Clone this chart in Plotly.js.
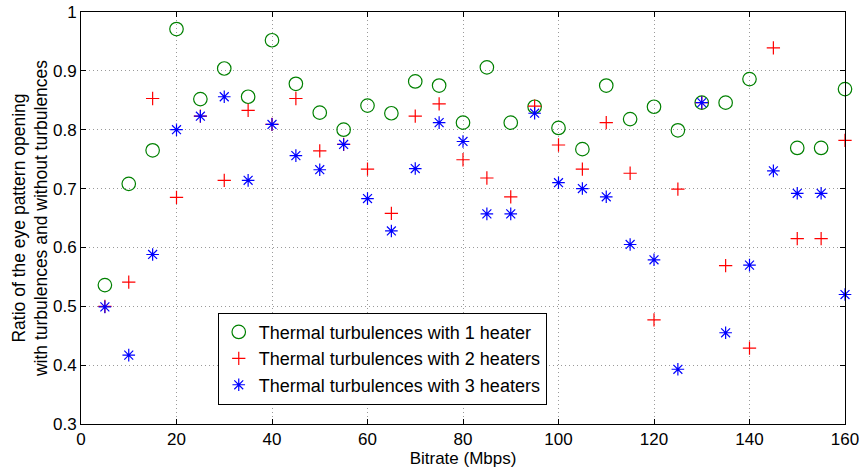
<!DOCTYPE html>
<html>
<head>
<meta charset="utf-8">
<script src="https://cdn.plot.ly/plotly-3.0.1.min.js"></script>
<style>html,body{margin:0;padding:0;background:#fff;}#chart{width:859px;height:468px;}</style>
</head>
<body>
<div id="chart"></div>
<script>
const bitrate = [5,10,15,20,25,30,35,40,45,50,55,60,65,70,75,80,85,90,95,100,105,110,115,120,125,130,135,140,145,150,155,160];
const heater1 = [0.536,0.708,0.765,0.971,0.852,0.904,0.856,0.952,0.878,0.829,0.800,0.841,0.828,0.882,0.875,0.812,0.906,0.812,0.839,0.803,0.767,0.875,0.818,0.839,0.799,0.846,0.846,0.886,null,0.769,0.769,0.869];
const heater2 = [0.500,0.541,0.853,0.685,0.823,0.714,0.833,0.809,0.853,0.764,0.775,0.733,0.658,0.823,0.844,0.749,0.718,0.686,0.840,0.774,0.733,0.812,0.726,0.477,0.699,0.846,0.569,0.429,0.939,0.615,0.615,0.782];
const heater3 = [0.499,0.417,0.588,0.800,0.823,0.856,0.714,0.809,0.756,0.732,0.775,0.683,0.628,0.734,0.812,0.780,0.657,0.657,0.828,0.710,0.700,0.686,0.605,0.579,0.393,0.846,0.455,0.570,0.730,0.692,0.692,0.520];
const seriesNames = ["Thermal turbulences with 1 heater","Thermal turbulences with 2 heaters","Thermal turbulences with 3 heaters"];
const xTicks = [0,20,40,60,80,100,120,140,160];
const yTicks = [0.3,0.4,0.5,0.6,0.7,0.8,0.9,1];
const yTickText = ["0.3","0.4","0.5","0.6","0.7","0.8","0.9","1"];

const fam = "Liberation Sans, Arial, Helvetica, sans-serif";
const font = {family: fam, size: 17, color: "#000"};

const traces = [
  {x: bitrate, y: heater1, name: seriesNames[0], mode: "markers", type: "scatter", cliponaxis: false,
   marker: {symbol: "circle-open", size: 13.5, color: "rgb(0,128,0)", line: {width: 1.2, color: "rgb(0,128,0)"}}},
  {x: bitrate, y: heater2, name: seriesNames[1], mode: "markers", type: "scatter", cliponaxis: false,
   marker: {symbol: "cross-thin-open", size: 9.5, color: "rgb(255,0,0)", line: {width: 1.2, color: "rgb(255,0,0)"}}},
  {x: bitrate, y: heater3, name: seriesNames[2], mode: "markers", type: "scatter", cliponaxis: false,
   marker: {symbol: "asterisk-open", size: 10.5, color: "rgb(0,0,255)", line: {width: 1.2, color: "rgb(0,0,255)"}}}
];

const axisCommon = {
  showline: true, linecolor: "#000", linewidth: 1, mirror: "ticks",
  ticks: "inside", ticklen: 5, tickcolor: "#000", tickwidth: 1,
  showgrid: true, gridcolor: "#9a9a9a", griddash: "1px,3px", gridwidth: 1,
  zeroline: false, tickfont: font, ticklabeloverflow: "allow"
};

const layout = {
  width: 859, height: 468,
  margin: {l: 81, r: 14, t: 12, b: 44},
  paper_bgcolor: "#fff", plot_bgcolor: "#fff",
  font: font,
  showlegend: true,
  legend: {x: 0.179, y: 0.27, xanchor: "left", yanchor: "top", bgcolor: "#fff",
           bordercolor: "#000", borderwidth: 1, font: {family: fam, size: 18, color: "#000"},
           tracegroupgap: 0, itemwidth: 30},
  xaxis: Object.assign({}, axisCommon, {range: [0, 160], tickvals: xTicks, ticktext: xTicks.map(String),
           title: {text: "Bitrate (Mbps)", font: font, standoff: 0}}),
  yaxis: Object.assign({}, axisCommon, {range: [0.3, 1], tickvals: yTicks, ticktext: yTickText,
           title: {text: "Ratio of the eye pattern opening<br>with turbulences and without turbulences", font: {family: fam, size: 17.5, color: "#000"}, standoff: 0}})
};

Plotly.newPlot("chart", traces, layout, {displayModeBar: false, staticPlot: true});
</script>
</body>
</html>
